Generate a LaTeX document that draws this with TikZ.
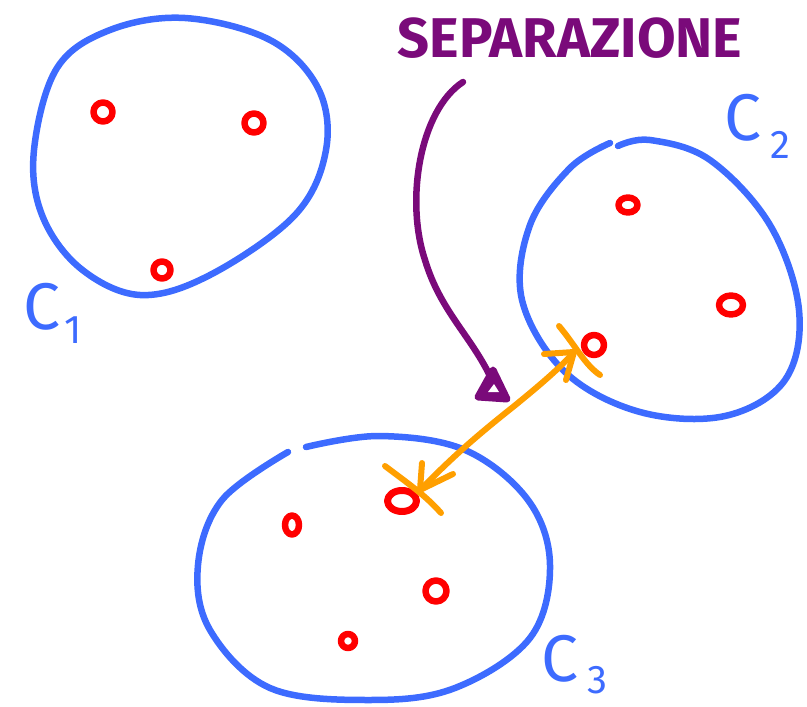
\documentclass[tikz,border=0pt]{standalone}
\usetikzlibrary{shapes.geometric}
\usepackage{fontspec}
\setmainfont{Fira Sans}
\newfontfamily\handfont{Fira Sans}
\definecolor{cblue}{HTML}{3D6BFF}
\definecolor{cred}{HTML}{FF0000}
\definecolor{cpurple}{HTML}{7A0A7A}
\definecolor{corange}{HTML}{FF9F00}
\begin{document}
\begin{tikzpicture}[x=1pt,y=-1pt,line cap=round,line join=round,
  blob/.style={draw=cblue,line width=6.5pt},
  pt/.style={draw=cred,line width=6.5pt,ellipse,inner sep=0pt,minimum width=19pt,minimum height=19pt},
  lab/.style={text=cblue,font=\handfont\fontsize{66}{66}\selectfont,inner sep=0pt},
  sub/.style={text=cblue,font=\handfont\fontsize{40}{40}\selectfont,inner sep=0pt},
  sep/.style={draw=cpurple,line width=6.5pt},
  orng/.style={draw=corange,line width=6pt}]
\useasboundingbox (0,0) rectangle (807,707);
% C1
\draw[blob] plot[smooth cycle,tension=0.6] coordinates{(57,68) (110,30) (185,18) (270,40) (318,88) (326,150) (295,215) (210,275) (140,295) (80,268) (42,215) (34,150)};
% C2
\draw[blob] plot[smooth,tension=0.6] coordinates{(618,146) (650,140) (710,160) (770,225) (799,310) (785,380) (725,416) (640,412) (565,372) (522,300) (530,225) (570,168) (610,143)};
% C3
\draw[blob] plot[smooth,tension=0.6] coordinates{(306,447) (380,436) (465,450) (528,500) (550,565) (530,638) (455,688) (370,700) (270,688) (210,630) (198,565) (222,500) (288,452)};
% points
\node[pt] (a1) at (103,112) {};
\node[pt] (a2) at (254,123) {};
\node[pt,minimum width=17pt,minimum height=17pt] (a3) at (162,270) {};
\node[pt,minimum width=19pt,minimum height=15pt] (b1) at (628,205) {};
\node[pt,minimum width=24pt,minimum height=19pt] (b2) at (731,305) {};
\node[pt,minimum width=20pt,minimum height=20pt] (b3) at (594,345) {};
\node[pt,minimum width=14pt,minimum height=19pt] (c1) at (292,525) {};
\node[pt,minimum width=29pt,minimum height=21pt,line width=7pt] (c2) at (402,501) {};
\node[pt,minimum width=21pt,minimum height=21pt] (c3) at (436,591) {};
\node[pt,minimum width=14pt,minimum height=14pt] (c4) at (348,641) {};
% labels
\node[lab] (l1) at (42,307) {C};
\node[sub] (s1) at (73,330) {1};
\node[lab] (l2) at (743,118) {C};
\node[sub] (s2) at (780,145) {2};
\node[lab] (l3) at (560,659) {C};
\node[sub] (s3) at (597,680) {3};
% SEPARAZIONE
\node[text=cpurple,font=\handfont\bfseries\fontsize{56}{56}\selectfont,inner sep=0pt] (title) at (570,38) {SEPARAZIONE};
\coordinate (ps) at (463,82);
\coordinate (pe) at (490,376);
\draw[sep] (ps) .. controls (420,110) and (405,200) .. (425,260) .. controls (440,310) and (470,335) .. (pe);
\filldraw[cpurple,line width=7pt] (478,397) -- (493,370) -- (507,399) -- cycle;
\fill[white] (488,392) -- (494,384) -- (499,392) -- cycle;
% orange double arrow
\coordinate (oa) at (420,490);
\coordinate (ob) at (574,352);
\draw[orng] (oa) .. controls (445,465) and (465,445) .. (513,407) .. controls (540,385) and (560,368) .. (ob);
\draw[orng] (544,354) -- (ob) -- (566,380);
\draw[orng] (422,463) -- (oa) -- (453,474);
\draw[orng] (559,326) .. controls (575,345) and (585,365) .. (600,375);
\draw[orng] (385,466) .. controls (410,485) and (425,495) .. (441,513);
\end{tikzpicture}
\end{document}
